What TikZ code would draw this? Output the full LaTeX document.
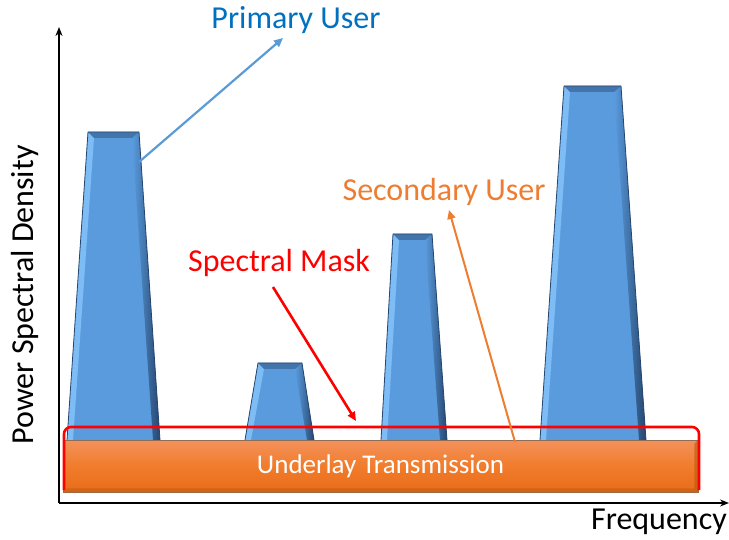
\documentclass[tikz,border=0pt]{standalone}
\usepackage{fontspec}
\setmainfont{Carlito}
\usetikzlibrary{arrows.meta}

\definecolor{puBlue}{RGB}{0,112,192}
\definecolor{puArrow}{RGB}{91,155,213}
\definecolor{peakBlue}{RGB}{90,155,222}
\definecolor{peakLight}{RGB}{125,188,245}
\definecolor{peakDark}{RGB}{38,70,110}
\definecolor{suOrange}{RGB}{237,125,49}
\definecolor{barTop}{RGB}{243,146,92}
\definecolor{barMid}{RGB}{241,124,44}
\definecolor{barBot}{RGB}{232,108,24}
\definecolor{barEdge}{RGB}{120,72,40}

\tikzset{
  lbl/.style={font=\fontsize{32}{37}\selectfont, inner sep=0pt},
  axisline/.style={line width=1.8pt, -{Stealth[length=9pt,width=7pt]}},
  callout/.style={line width=2.2pt, -{Triangle[length=9pt,width=8pt]}},
  maskline/.style={red, line width=2.6pt, rounded corners=7pt},
}

% one bevelled peak: #1 bottom-left x, #2 bottom-right x, #3 top y, #4 top-left x, #5 top-right x
\newcommand\drawpeak[5]{%
  \fill[peakBlue] (#1,440) -- (#4,#3) -- (#5,#3) -- (#2,440) -- cycle;
  \fill[peakLight] (#1,440) -- (#4,#3) -- ({#4+6},{#3+6}) -- ({#1+6},440) -- cycle;
  \shade[left color=peakBlue, right color=peakDark]
        (#2,440) -- (#5,#3) -- ({#5-7},{#3+6}) -- ({#2-7},440) -- cycle;
  \fill[peakDark!45!peakBlue] (#4,#3) -- (#5,#3) -- ({#5-7},{#3+6}) -- ({#4+6},{#3+6}) -- cycle;
  \draw[peakDark, line width=0.8pt, line join=round] (#1,440) -- (#4,#3) -- (#5,#3) -- (#2,440);
}

\begin{document}
\begin{tikzpicture}[x=1pt,y=-1pt]
  \useasboundingbox (0,0) rectangle (729,540);

  % axes
  \coordinate (origin) at (59,503);
  \coordinate (yend) at (59,27);
  \coordinate (xend) at (729,503);
  \draw[axisline] (origin) -- (yend);
  \draw[axisline] (origin) -- (xend);

  % primary-user peaks
  \drawpeak{67}{160}{132}{88}{139}
  \drawpeak{245}{314}{363}{258}{302}
  \drawpeak{381}{447}{234}{393}{432}
  \drawpeak{540}{646}{86}{564}{621}

  % underlay band
  \node[shade, top color=barTop, bottom color=barBot, middle color=barMid,
        draw=barEdge!80, line width=0.8pt,
        minimum width=635pt, minimum height=52pt, inner sep=0pt,
        text=white, font=\fontsize{27}{32}\selectfont]
        (bar) at (380.5,466) {Underlay Transmission};
  \fill[barBot!85!black, opacity=0.6] (bar.south west) -- ++(4,-4) -- ([xshift=-4pt,yshift=4pt]bar.south east) -- (bar.south east) -- cycle;
  \fill[barBot!80!black, opacity=0.6] (bar.south east) -- ([xshift=-4pt,yshift=4pt]bar.south east) -- ([xshift=-4pt,yshift=-4pt]bar.north east) -- (bar.north east) -- cycle;

  % spectral mask
  \draw[maskline] (64,490) -- (64,427) -- (699,427) -- (699,490);

  % labels
  \node[lbl, text=puBlue] (pu) at (296,20) {Primary User};
  \node[lbl, text=suOrange] (su) at (444,192) {Secondary User};
  \node[lbl, text=red] (sm) at (279,263) {Spectral Mask};
  \node[lbl, rotate=90] (psd) at (25,295) {Power Spectral Density};
  \node[lbl, anchor=east] (freq) at (727,522) {Frequency};

  % callouts
  \coordinate (puFrom) at (139,162);
  \coordinate (puTo) at (283,38);
  \draw[callout, puArrow] (puFrom) -- (puTo);

  \coordinate (smFrom) at (273,287);
  \coordinate (smTo) at (356,421);
  \draw[callout, red, line width=2.6pt] (smFrom) -- (smTo);

  \coordinate (suFrom) at (515,442);
  \coordinate (suTo) at (449,210);
  \draw[callout, suOrange, line width=2pt] (suFrom) -- (suTo);
\end{tikzpicture}
\end{document}
